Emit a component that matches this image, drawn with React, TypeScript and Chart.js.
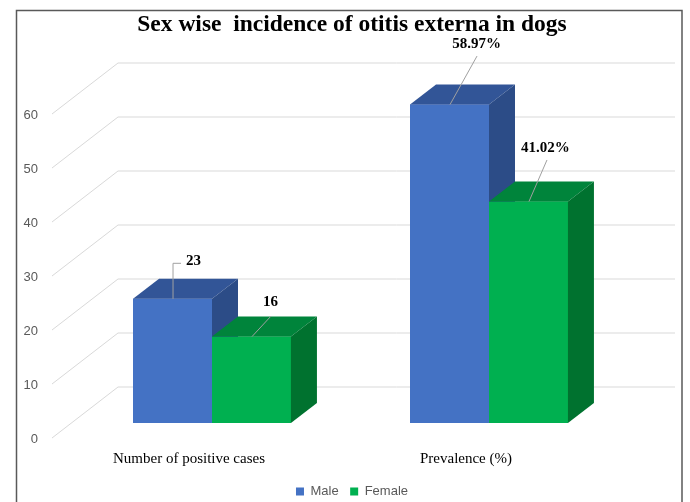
import React, { useEffect, useRef } from "react";
import { Chart, registerables } from "chart.js";

Chart.register(...registerables);

// ---- data ----
const categories = ["Number of positive cases", "Prevalence (%)"];
const seriesNames = ["Male", "Female"];
const maleValues = [23, 58.97];
const femaleValues = [16, 41.02];
const maleLabels = ["23", "58.97%"];
const femaleLabels = ["16", "41.02%"];
const yTickValues = [0, 10, 20, 30, 40, 50, 60];
const titleText = "Sex wise  incidence of otitis externa in dogs";

// ---- style ----
const FRONT_COLORS = ["#4472C4", "#00B050"];
const TOP_COLORS = ["#325597", "#00843B"];
const SIDE_COLORS = ["#2C4C87", "#00722F"];
const DEPTH_DX = 26;
const DEPTH_DY = 20;
const FLOOR_FRONT_DY = 15;
const WALL_BACK_DY = -36;
const FLOOR_FRONT_X_OFF = -21.5;
const WALL_BACK_X_OFF = 44.5;
const GRID_RIGHT_OFF = 47.5;
// label offsets per dataset per category: text pos and leader line points
const LABEL_LAYOUT = [
  [
    { text: [21, -38], line: [[0, 0], [0, -36], [8, -36]] },
    { text: [27, -60], line: [[0, 0], [27, -49]] },
  ],
  [
    { text: [19, -34], line: [[0, 0], [19, -21]] },
    { text: [17, -53], line: [[0, 0], [18, -42]] },
  ],
];
const LABEL_TEXTS = [maleLabels, femaleLabels];

const threeDPlugin = {
  id: "threeD",
  beforeDraw(chart: any) {
    const ctx = chart.ctx;
    ctx.save();
    ctx.fillStyle = "#ffffff";
    ctx.fillRect(0, 0, chart.width, chart.height);
    ctx.strokeStyle = "#595959";
    ctx.lineWidth = 1.5;
    ctx.beginPath();
    ctx.moveTo(16.5, chart.height + 2);
    ctx.lineTo(16.5, 10.5);
    ctx.lineTo(682, 10.5);
    ctx.lineTo(682, chart.height + 2);
    ctx.stroke();
    ctx.restore();
  },
  beforeDatasetsDraw(chart: any) {
    const ctx = chart.ctx;
    const y = chart.scales.y;
    const area = chart.chartArea;
    ctx.save();
    ctx.strokeStyle = "#D9D9D9";
    ctx.lineWidth = 1;
    yTickValues.forEach((v) => {
      const py = y.getPixelForValue(v);
      ctx.beginPath();
      ctx.moveTo(area.left + FLOOR_FRONT_X_OFF, py + FLOOR_FRONT_DY);
      ctx.lineTo(area.left + WALL_BACK_X_OFF, py + WALL_BACK_DY);
      ctx.lineTo(area.right + GRID_RIGHT_OFF, py + WALL_BACK_DY);
      ctx.stroke();
    });
    ctx.restore();
  },
  afterDatasetsDraw(chart: any) {
    const ctx = chart.ctx;
    ctx.save();
    // 3D boxes, drawn series by series (left to right) so nearer faces overlap correctly
    chart.data.datasets.forEach((_ds: any, di: number) => {
      const meta = chart.getDatasetMeta(di);
      meta.data.forEach((el: any) => {
        const { x, y, base, width } = el.getProps(["x", "y", "base", "width"], true);
        const l = x - width / 2;
        const r = x + width / 2;
        ctx.fillStyle = FRONT_COLORS[di];
        ctx.fillRect(l, y, width, base - y);
        ctx.fillStyle = TOP_COLORS[di];
        ctx.beginPath();
        ctx.moveTo(l, y);
        ctx.lineTo(l + DEPTH_DX, y - DEPTH_DY);
        ctx.lineTo(r + DEPTH_DX, y - DEPTH_DY);
        ctx.lineTo(r, y);
        ctx.closePath();
        ctx.fill();
        ctx.fillStyle = SIDE_COLORS[di];
        ctx.beginPath();
        ctx.moveTo(r, y);
        ctx.lineTo(r + DEPTH_DX, y - DEPTH_DY);
        ctx.lineTo(r + DEPTH_DX, base - DEPTH_DY);
        ctx.lineTo(r, base);
        ctx.closePath();
        ctx.fill();
      });
    });
    // data labels with leader lines
    chart.data.datasets.forEach((_ds: any, di: number) => {
      const meta = chart.getDatasetMeta(di);
      meta.data.forEach((el: any, i: number) => {
        const { x, y } = el.getProps(["x", "y"], true);
        const lay = LABEL_LAYOUT[di][i];
        ctx.strokeStyle = "#A0A0A0";
        ctx.lineWidth = 1;
        ctx.beginPath();
        lay.line.forEach((p: number[], k: number) => {
          if (k === 0) ctx.moveTo(x + p[0] + 0.5, y + p[1]);
          else ctx.lineTo(x + p[0] + 0.5, y + p[1] + 0.5);
        });
        ctx.stroke();
        ctx.fillStyle = "#000000";
        ctx.font = 'bold 15px "Liberation Serif"';
        ctx.textAlign = "center";
        ctx.textBaseline = "middle";
        ctx.fillText(LABEL_TEXTS[di][i], x + lay.text[0], y + lay.text[1]);
      });
    });
    ctx.restore();
  },
};

export default function App() {
  const canvasRef = useRef<HTMLCanvasElement | null>(null);

  useEffect(() => {
    document.body.style.margin = "0";
    const canvas = canvasRef.current;
    if (!canvas) return;
    const chart = new Chart(canvas, {
      type: "bar",
      data: {
        labels: categories,
        datasets: [
          {
            label: seriesNames[0],
            data: maleValues,
            backgroundColor: FRONT_COLORS[0],
            borderWidth: 0,
          },
          {
            label: seriesNames[1],
            data: femaleValues,
            backgroundColor: FRONT_COLORS[1],
            borderWidth: 0,
          },
        ],
      },
      options: {
        animation: false,
        responsive: false,
        events: [],
        layout: { padding: { left: 16, right: 2, top: 0, bottom: -6 } },
        datasets: {
          bar: { categoryPercentage: 0.57, barPercentage: 1.0 },
        },
        scales: {
          x: {
            grid: { display: false, drawTicks: false },
            border: { display: false },
            ticks: {
              color: "#000000",
              font: { family: "Liberation Serif", size: 15 },
              padding: 27,
              labelOffset: -23,
              maxRotation: 0,
            },
            afterFit: (scale: any) => {
              scale.height = 50.5;
            },
          },
          y: {
            min: 0,
            max: 65,
            grid: { display: false, drawTicks: false },
            border: { display: false },
            afterBuildTicks: (scale: any) => {
              scale.ticks = yTickValues.map((v) => ({ value: v }));
            },
            ticks: {
              color: "#595959",
              font: { family: "Liberation Sans", size: 13 },
              padding: 35.5,
              labelOffset: 16,
            },
            afterFit: (scale: any) => {
              scale.width = 57.5;
            },
          },
          yRight: {
            position: "right",
            display: true,
            grid: { display: false, drawTicks: false },
            border: { display: false },
            ticks: { display: false },
            afterFit: (scale: any) => {
              scale.width = 60.5;
            },
          },
        },
        plugins: {
          title: {
            display: true,
            text: titleText,
            color: "#000000",
            font: { family: "Liberation Serif", size: 23.5, weight: "bold" },
            padding: { top: 10.5, bottom: 33.3 },
          },
          legend: {
            position: "bottom",
            labels: {
              boxWidth: 8,
              boxHeight: 8,
              padding: 11.5,
              color: "#595959",
              font: { family: "Liberation Sans", size: 13 },
            },
          },
          tooltip: { enabled: false },
        },
      },
      plugins: [threeDPlugin],
    });
    return () => chart.destroy();
  }, []);

  return (
    <div style={{ width: 690, height: 502 }}>
      <canvas ref={canvasRef} width={690} height={502} style={{ display: "block" }} />
    </div>
  );
}
